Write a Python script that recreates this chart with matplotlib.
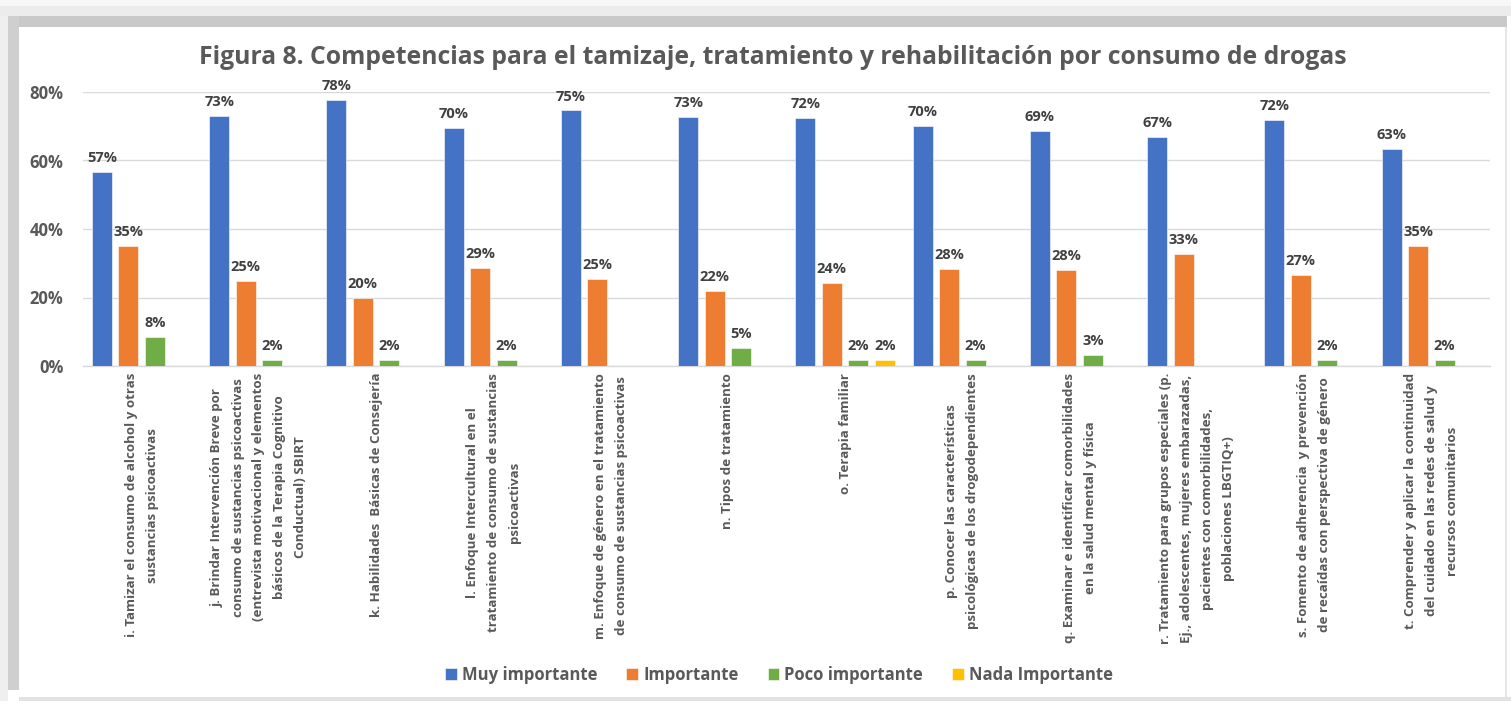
import matplotlib
matplotlib.use("Agg")
import matplotlib.pyplot as plt
import numpy as np
from matplotlib.patches import Rectangle

plt.rcParams['font.family'] = ['Open Sans', 'DejaVu Sans']

categories = [
    "i. Tamizar el consumo de alcohol y otras\nsustancias psicoactivas",
    "j. Brindar Intervención Breve por\nconsumo de sustancias psicoactivas\n(entrevista motivacional y elementos\nbásicos de la Terapia Cognitivo\nConductual) SBIRT",
    "k. Habilidades  Básicas de Consejería",
    "l. Enfoque Intercultural en el\ntratamiento de consumo de sustancias\npsicoactivas",
    "m. Enfoque de género en el tratamiento\nde consumo de sustancias psicoactivas",
    "n. Tipos de tratamiento",
    "o. Terapia familiar",
    "p. Conocer las características\npsicológicas de los drogodependientes",
    "q. Examinar e identificar comorbilidades\nen la salud mental y física",
    "r. Tratamiento para grupos especiales (p.\nEj., adolescentes, mujeres embarazadas,\npacientes con comorbilidades,\npoblaciones LBGTIQ+)",
    "s. Fomento de adherencia  y prevención\nde recaídas con perspectiva de género",
    "t. Comprender y aplicar la continuidad\ndel cuidado en las redes de salud y\nrecursos comunitarios",
]
series_names = ["Muy importante", "Importante", "Poco importante", "Nada Importante"]
muy_importante = [56.6, 73.1, 77.6, 69.6, 74.6, 72.7, 72.4, 70.0, 68.7, 67.0, 71.7, 63.4]
importante = [35.0, 24.9, 19.8, 28.6, 25.4, 21.8, 24.2, 28.3, 27.9, 32.7, 26.6, 35.0]
poco_importante = [8.4, 1.75, 1.75, 1.75, 0, 5.2, 1.75, 1.75, 3.1, 0, 1.75, 1.75]
nada_importante = [0, 0, 0, 0, 0, 0, 1.75, 0, 0, 0, 0, 0]
colors = ["#4472C4", "#ED7D31", "#70AD47", "#FFC000"]
yticks = [0, 20, 40, 60, 80]
title = "Figura 8. Competencias para el tamizaje, tratamiento y rehabilitación por consumo de drogas"

W, H = 1511, 701
fig = plt.figure(figsize=(W / 100, H / 100), dpi=100)
fig.patch.set_facecolor("white")

def frect(x0, y0, x1, y1, c):
    fig.patches.append(Rectangle((x0 / W, 1 - y1 / H), (x1 - x0) / W, (y1 - y0) / H,
                                 transform=fig.transFigure, facecolor=c, edgecolor="none", zorder=0))

# frame decoration
frect(0, 0, W, 6, "#f7f7f7")
frect(0, 6, W, 16, "#ececec")
frect(0, 16, 1507, 27, "#c9c9c9")
frect(0, 16, 8, H, "#efefef")
frect(8, 16, 19, 690, "#cfcfcf")
frect(19, 697, W, H, "#e2e2e2")
frect(1505, 27, 1507, 697, "#e6e6e6")

ax = fig.add_axes([83 / W, 335 / H, 1407 / W, 274 / H])
ax.set_facecolor("none")

x = np.arange(len(categories))
all_series = [muy_importante, importante, poco_importante, nada_importante]
slot = 0.226
bw = 0.172
for i, (vals, name, col) in enumerate(zip(all_series, series_names, colors)):
    off = (i - 1.5) * slot
    ax.bar(x + off, vals, width=bw, color=col, label=name, zorder=3,
           edgecolor="white", linewidth=0.4)
    for xi, v in zip(x, vals):
        if v > 0:
            ax.annotate(f"{v:.0f}%", (xi + off, v), xytext=(0, 5), textcoords="offset points",
                        ha="center", va="bottom", fontsize=10.5, fontweight="bold", color="#404040")

ax.set_xlim(-0.5, len(categories) - 0.5)
ax.set_ylim(0, 80)
ax.set_yticks(yticks)
ax.set_yticklabels([f"{t}%" for t in yticks], fontsize=12, fontweight="bold", color="#595959")
ax.yaxis.grid(True, color="#d9d9d9", linewidth=1, zorder=0)
ax.set_axisbelow(True)
for s in ["top", "right", "left"]:
    ax.spines[s].set_visible(False)
ax.spines["bottom"].set_color("#d9d9d9")
ax.spines["bottom"].set_linewidth(1)
ax.tick_params(axis="y", length=0, pad=14)
ax.tick_params(axis="x", length=0)
ax.set_xticks(x)
ax.set_xticklabels([])

for xi, lab in zip(x, categories):
    ax.annotate(lab, (xi, 0), xytext=(0, -5), textcoords="offset points",
                ha="center", va="top", rotation=90, multialignment="center",
                fontsize=9.6, fontweight="bold", color="#595959", linespacing=1.78,
                annotation_clip=False)

fig.text(773 / W, 1 - 57 / H, title, ha="center", va="center", fontsize=17.8,
         fontweight="bold", color="#595959")

leg = fig.legend(loc="center", bbox_to_anchor=(779 / W, 1 - 675 / H), ncol=4, frameon=False,
                 handlelength=0.7, handleheight=0.7, handletextpad=0.3, columnspacing=1.75,
                 prop={"size": 12, "weight": "bold"})
for t in leg.get_texts():
    t.set_color("#595959")

fig.savefig("out.png", dpi=100, facecolor=fig.get_facecolor())
